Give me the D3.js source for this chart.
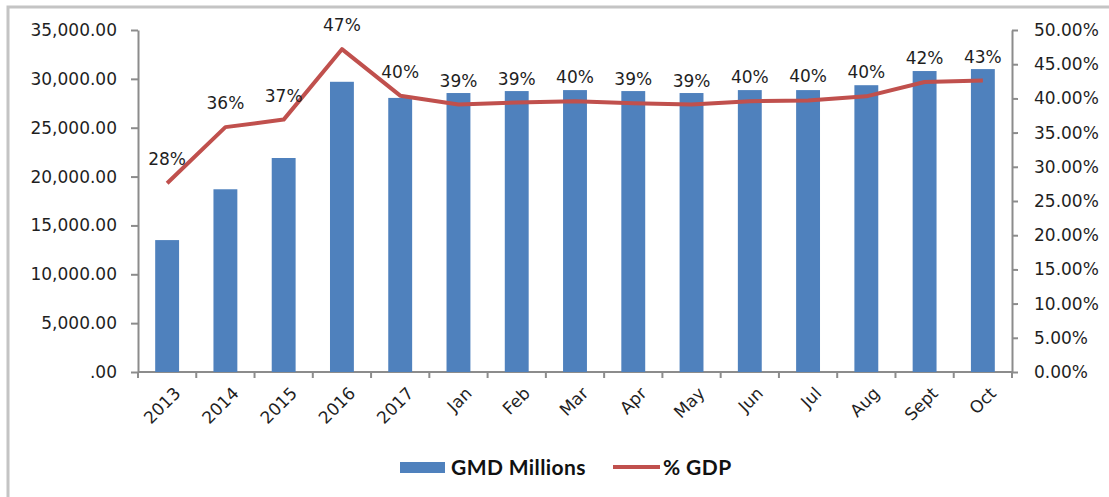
<html>
<head>
<title>GMD Millions and % GDP</title>
<style>
body {
  margin: 0;
  background: #fff;
}
svg text {
  font-family: 'DejaVu Sans', Verdana, sans-serif;
  fill: #1f1f1f;
}
.axis path, .axis line {
  stroke: #8c8c8c;
  stroke-width: 2;
}
.axis text {
  font-size: 17px;
}
.legend text {
  font-family: Lato, 'Open Sans', sans-serif;
  font-weight: bold;
  font-size: 21px;
  letter-spacing: 0.4px;
  fill: #111;
}
</style>
</head>
<body>
<svg id='plot' width='1109' height='497'></svg>

<script src='https://cdn.jsdelivr.net/npm/d3@7/dist/d3.min.js'></script>
<script>
// categories on the x axis
const categories = ['2013', '2014', '2015', '2016', '2017', 'Jan', 'Feb', 'Mar',
                    'Apr', 'May', 'Jun', 'Jul', 'Aug', 'Sept', 'Oct'];
// bars, GMD millions (left axis)
const gmdMillions = [13500, 18700, 21900, 29700, 28050, 28550, 28750, 28850,
                     28750, 28550, 28850, 28850, 29350, 30800, 31000];
// line, % of GDP (right axis)
const pctGdp = [27.6, 35.8, 36.9, 47.2, 40.4, 39.1, 39.4, 39.6,
                39.3, 39.1, 39.6, 39.7, 40.3, 42.4, 42.6];
const leftTicks = [0, 5000, 10000, 15000, 20000, 25000, 30000, 35000];
const rightTicks = [0, 5, 10, 15, 20, 25, 30, 35, 40, 45, 50];

const svg = d3.select('#plot');
const plotLeft = 138, plotRight = 1012, plotTop = 30, plotBottom = 372;

// outer frame (only left and top edges show)
svg.append('path')
  .attr('d', 'M8,497 L8,7 L1109,7')
  .attr('fill', 'none')
  .attr('stroke', '#c4c4c4')
  .attr('stroke-width', 3);

const x = d3.scaleBand().domain(categories).range([plotLeft, plotRight]).padding(0);
const yL = d3.scaleLinear().domain([0, 35000]).range([plotBottom, plotTop]);
const yR = d3.scaleLinear().domain([0, 50]).range([plotBottom, plotTop]);

// left axis
const fmtL = d3.format(',.2f');
svg.append('g')
  .attr('class', 'axis')
  .attr('transform', `translate(${plotLeft},0)`)
  .call(d3.axisLeft(yL).tickValues(leftTicks).tickSize(7).tickSizeOuter(0).tickPadding(14)
    .tickFormat(v => v === 0 ? '.00' : fmtL(v)));

// right axis
svg.append('g')
  .attr('class', 'axis')
  .attr('transform', `translate(${plotRight},0)`)
  .call(d3.axisRight(yR).tickValues(rightTicks).tickSize(6).tickSizeOuter(0).tickPadding(16)
    .tickFormat(v => v.toFixed(2) + '%'));

// bottom axis: ticks sit between categories
const xAxis = svg.append('g').attr('class', 'axis');
xAxis.append('line')
  .attr('x1', plotLeft).attr('x2', plotRight)
  .attr('y1', plotBottom).attr('y2', plotBottom);
const edges = categories.map(c => x(c)).concat([plotRight]);
xAxis.selectAll('line.tick')
  .data(edges)
  .enter().append('line')
  .attr('class', 'tick')
  .attr('x1', d => d).attr('x2', d => d)
  .attr('y1', plotBottom).attr('y2', plotBottom + 6);
xAxis.selectAll('text')
  .data(categories)
  .enter().append('text')
  .attr('text-anchor', 'end')
  .attr('transform', d => `translate(${x(d) + x.bandwidth() / 2 + 6},${plotBottom + 14}) rotate(-45)`)
  .attr('dy', '0.7em')
  .text(d => d);

// bars
const barW = x.bandwidth() * 0.41;
svg.append('g')
  .selectAll('rect')
  .data(gmdMillions)
  .enter().append('rect')
  .attr('x', (d, i) => x(categories[i]) + (x.bandwidth() - barW) / 2)
  .attr('y', d => yL(d))
  .attr('width', barW)
  .attr('height', d => plotBottom - yL(d))
  .attr('fill', '#4f81bd');

// % GDP line
const line = d3.line()
  .x((d, i) => x(categories[i]) + x.bandwidth() / 2)
  .y(d => yR(d));
svg.append('path')
  .datum(pctGdp)
  .attr('d', line)
  .attr('fill', 'none')
  .attr('stroke', '#c0504d')
  .attr('stroke-width', 4)
  .attr('stroke-linejoin', 'round');

// data labels
svg.append('g')
  .selectAll('text')
  .data(pctGdp)
  .enter().append('text')
  .attr('x', (d, i) => x(categories[i]) + x.bandwidth() / 2)
  .attr('y', d => yR(d) - 18)
  .attr('text-anchor', 'middle')
  .attr('font-size', 17)
  .text(d => Math.round(d) + '%');

// legend
const legend = svg.append('g').attr('class', 'legend');
legend.append('rect')
  .attr('x', 400).attr('y', 462)
  .attr('width', 45).attr('height', 11)
  .attr('fill', '#4f81bd');
legend.append('text')
  .attr('x', 451).attr('y', 475)
  .text('GMD Millions');
legend.append('line')
  .attr('x1', 613).attr('x2', 660)
  .attr('y1', 467).attr('y2', 467)
  .attr('stroke', '#c0504d')
  .attr('stroke-width', 4);
legend.append('text')
  .attr('x', 663).attr('y', 475)
  .text('% GDP');
</script>
</body>
</html>
